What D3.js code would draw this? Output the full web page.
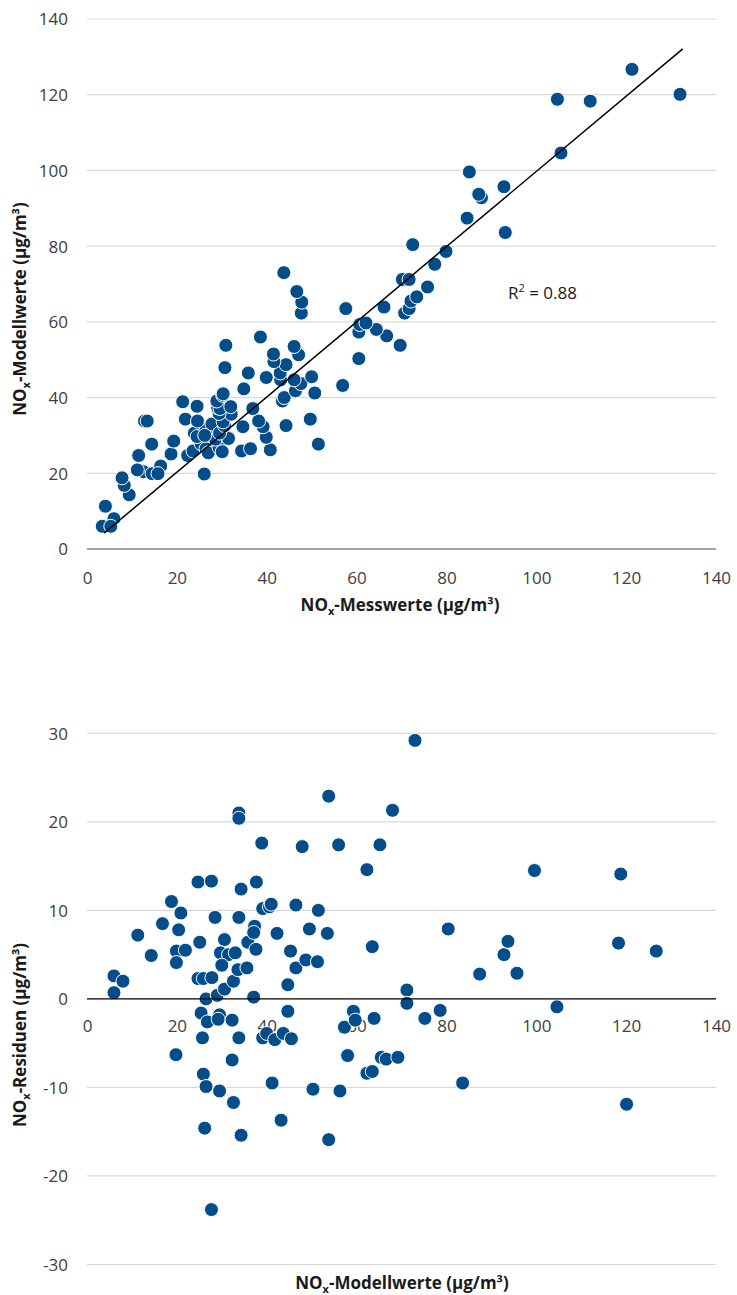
<!DOCTYPE html>
<html>
<head>
<meta charset="utf-8">
<script src="https://cdn.jsdelivr.net/npm/d3@7"></script>
<style>
  html, body { margin: 0; padding: 0; background: #fff; }
  svg { display: block; font-family: "Open Sans", "Liberation Sans", sans-serif; }
</style>
</head>
<body>
<svg id="chart" width="737" height="1295"></svg>
<script>
// ---- Data (top chart): measured vs modelled NOx ----
const measured = [3.4,6.0,5.3,4.1,9.4,8.3,7.8,12.6,11.2,14.5,16.4,15.8,26.1,11.5,14.4,22.4,23.6,25.4,18.7,26.5,27.0,29.4,30.1,34.4,36.4,40.8,51.5,19.3,28.6,31.3,31.5,39.9,23.9,24.5,26.5,27.8,26.2,29.5,34.7,39.2,44.3,30.6,30.3,32.1,12.8,13.4,21.9,24.6,38.2,49.7,29.4,29.1,29.6,32.0,24.5,36.9,21.3,28.9,30.2,30.3,43.5,43.9,46.4,47.6,50.0,50.7,34.9,56.9,43.1,46.1,39.9,43.0,35.9,30.7,44.3,41.6,47.1,41.5,60.5,46.1,30.9,69.7,38.6,66.7,60.5,64.4,60.7,62.1,70.7,71.7,47.7,57.6,66.1,47.8,72.1,73.4,46.7,75.8,70.2,71.7,43.8,77.4,79.9,72.5,93.1,84.6,87.8,87.2,92.8,85.1,105.5,112.0,104.7,132.0,121.3];
const modelled = [6.0,8.0,6.0,11.3,14.3,16.8,18.8,20.4,20.9,19.9,21.9,19.9,19.8,24.7,27.7,24.7,25.9,27.8,25.1,26.5,25.4,26.8,25.7,25.9,26.5,26.2,27.7,28.5,29.0,29.5,29.2,29.5,30.6,29.7,31.5,33.0,30.0,30.6,32.3,32.3,32.6,32.6,33.6,35.6,33.8,33.8,34.3,33.8,33.8,34.3,35.8,37.3,37.1,37.6,37.7,37.1,38.9,39.1,40.6,41.0,39.1,40.0,41.8,43.7,45.5,41.2,42.3,43.2,44.7,44.7,45.3,46.5,46.5,47.9,48.7,49.5,51.3,51.5,50.3,53.5,53.8,53.8,56.0,56.3,57.3,58.0,59.3,59.7,62.3,63.5,62.3,63.5,63.9,65.2,65.5,66.6,68.0,69.2,71.2,71.2,73.0,75.2,78.6,80.4,83.6,87.4,92.8,93.7,95.7,99.6,104.6,118.3,118.8,120.1,126.7];
// trend line end points (measured, modelled)
const trendX = [3.8, 132.6];
const trendY = [4.2, 132.1];
const rSquared = "0.88";

// ---- Data (bottom chart): modelled vs residuals ----
const resModel = [6.0,8.0,6.0,11.3,14.3,16.8,18.8,20.4,20.9,19.9,21.9,19.9,19.8,24.7,27.7,24.7,25.9,27.8,25.1,26.5,25.4,26.8,25.7,25.9,26.5,26.2,27.7,28.5,29.0,29.5,29.2,29.5,30.6,29.7,31.5,33.0,30.0,30.6,32.3,32.3,32.6,32.6,33.6,35.6,33.8,33.8,34.3,33.8,33.8,34.3,35.8,37.3,37.1,37.6,37.7,37.1,38.9,39.1,40.6,41.0,39.1,40.0,41.8,43.7,45.5,41.2,42.3,43.2,44.7,44.7,45.3,46.5,46.5,47.9,48.7,49.5,51.3,51.5,50.3,53.5,53.8,53.8,56.0,56.3,57.3,58.0,59.3,59.7,62.3,63.5,62.3,63.5,63.9,65.2,65.5,66.6,68.0,69.2,71.2,71.2,73.0,75.2,78.6,80.4,83.6,87.4,92.8,93.7,95.7,99.6,104.6,118.3,118.8,120.1,126.7];
const residuals = [2.6,2.0,0.7,7.2,4.9,8.5,11.0,7.8,9.7,5.4,5.5,4.1,-6.3,13.2,13.3,2.3,2.3,2.4,6.4,0.0,-1.6,-2.6,-4.4,-8.5,-9.9,-14.6,-23.8,9.2,0.4,-1.8,-2.3,-10.4,6.7,5.2,5.0,5.2,3.8,1.1,-2.4,-6.9,-11.7,2.0,3.3,3.5,21.0,20.4,12.4,9.2,-4.4,-15.4,6.4,8.2,7.5,5.6,13.2,0.2,17.6,10.2,10.4,10.7,-4.4,-3.9,-4.6,-3.9,-4.5,-9.5,7.4,-13.7,1.6,-1.4,5.4,3.5,10.6,17.2,4.4,7.9,4.2,10.0,-10.2,7.4,22.9,-15.9,17.4,-10.4,-3.2,-6.4,-1.4,-2.4,-8.4,-8.2,14.6,5.9,-2.2,17.4,-6.6,-6.8,21.3,-6.6,1.0,-0.5,29.2,-2.2,-1.3,7.9,-9.5,2.8,5.0,6.5,2.9,14.5,-0.9,6.3,14.1,-11.9,5.4];

// ---- Tick labels ----
const xTicks = [0,20,40,60,80,100,120,140];
const yTicksTop = [0,20,40,60,80,100,120,140];
const yTicksBottom = [-30,-20,-10,0,10,20,30];

const DOT = "#034e8a";
const GRID = "#d9d9d9";
const TXT = "#404040";
const fmt = d => String(d);

const svg = d3.select("#chart");

const x = d3.scaleLinear().domain([0, 140]).range([87, 716]);
const yTop = d3.scaleLinear().domain([0, 140]).range([549, 19]);
const yBot = d3.scaleLinear().domain([-30, 30]).range([1264.5, 733.3]);

function axisTitle(g, parts, attrs) {
  const t = g.append("text")
    .attr("font-weight", "bold")
    .attr("font-size", 17)
    .attr("fill", "#1a1a1a")
    .attr("text-anchor", "middle");
  for (const k in attrs) t.attr(k, attrs[k]);
  t.append("tspan").text("NO");
  t.append("tspan").attr("font-size", 11).attr("dy", 4).text("x");
  t.append("tspan").attr("dy", -4).text(parts);
  return t;
}

function styleTicks(g) {
  g.select(".domain").remove();
  g.selectAll("text").attr("font-size", 17).attr("fill", TXT)
    .attr("font-family", "Open Sans").attr("dy", "0.35em");
}

// ===== TOP CHART =====
const topG = svg.append("g");
topG.append("g").selectAll("line").data(yTicksTop.filter(d => d !== 0)).join("line")
  .attr("x1", x(0)).attr("x2", x(140))
  .attr("y1", d => yTop(d)).attr("y2", d => yTop(d))
  .attr("stroke", GRID).attr("stroke-width", 1.2);
topG.append("g").call(d3.axisLeft(yTop).tickValues(yTicksTop).tickFormat(fmt).tickSize(0).tickPadding(0))
  .attr("transform", "translate(68,0)")
  .call(styleTicks);
topG.append("line").attr("x1", x(0)).attr("x2", x(140))
  .attr("y1", yTop(0)).attr("y2", yTop(0))
  .attr("stroke", "#858585").attr("stroke-width", 1.3);
topG.append("g").call(d3.axisBottom(x).tickValues(xTicks).tickFormat(fmt).tickSize(0).tickPadding(0))
  .attr("transform", "translate(0,578)")
  .call(styleTicks);

topG.append("g").selectAll("circle").data(measured.map((m, i) => [m, modelled[i]])).join("circle")
  .attr("cx", d => x(d[0])).attr("cy", d => yTop(d[1])).attr("r", 7)
  .attr("fill", DOT).attr("stroke", "#fff").attr("stroke-width", 1);

topG.append("line")
  .attr("x1", x(trendX[0])).attr("y1", yTop(trendY[0]))
  .attr("x2", x(trendX[1])).attr("y2", yTop(trendY[1]))
  .attr("stroke", "#000").attr("stroke-width", 1.5);

const r2 = topG.append("text").attr("x", 508).attr("y", 299).attr("font-size", 17).attr("fill", "#1a1a1a");
r2.append("tspan").text("R");
r2.append("tspan").attr("font-size", 11).attr("dy", -7).text("2");
r2.append("tspan").attr("dy", 7).text(" = " + rSquared);

axisTitle(topG, "-Messwerte (µg/m³)", { x: 400, y: 611 });
axisTitle(topG, "-Modellwerte (µg/m³)", { transform: "translate(26,309) rotate(-90)" });

// ===== BOTTOM CHART =====
const botG = svg.append("g");
botG.append("g").selectAll("line").data(yTicksBottom.filter(d => d !== 0)).join("line")
  .attr("x1", x(0)).attr("x2", x(140))
  .attr("y1", d => yBot(d)).attr("y2", d => yBot(d))
  .attr("stroke", GRID).attr("stroke-width", 1.2);
botG.append("g").call(d3.axisLeft(yBot).tickValues(yTicksBottom).tickFormat(fmt).tickSize(0).tickPadding(0))
  .attr("transform", "translate(68,0)")
  .call(styleTicks);
botG.append("g").call(d3.axisBottom(x).tickValues(xTicks).tickFormat(fmt).tickSize(0).tickPadding(0))
  .attr("transform", "translate(0,1026)")
  .call(styleTicks);

botG.append("g").selectAll("circle").data(resModel.map((m, i) => [m, residuals[i]])).join("circle")
  .attr("cx", d => x(d[0])).attr("cy", d => yBot(d[1])).attr("r", 7)
  .attr("fill", DOT).attr("stroke", "#fff").attr("stroke-width", 1);

botG.append("line").attr("x1", x(0)).attr("x2", x(140))
  .attr("y1", yBot(0)).attr("y2", yBot(0))
  .attr("stroke", "#000").attr("stroke-width", 1.2);

axisTitle(botG, "-Modellwerte (µg/m³)", { x: 402, y: 1289 });
axisTitle(botG, "-Residuen (µg/m³)", { transform: "translate(26,1035) rotate(-90)" });
</script>
</body>
</html>
